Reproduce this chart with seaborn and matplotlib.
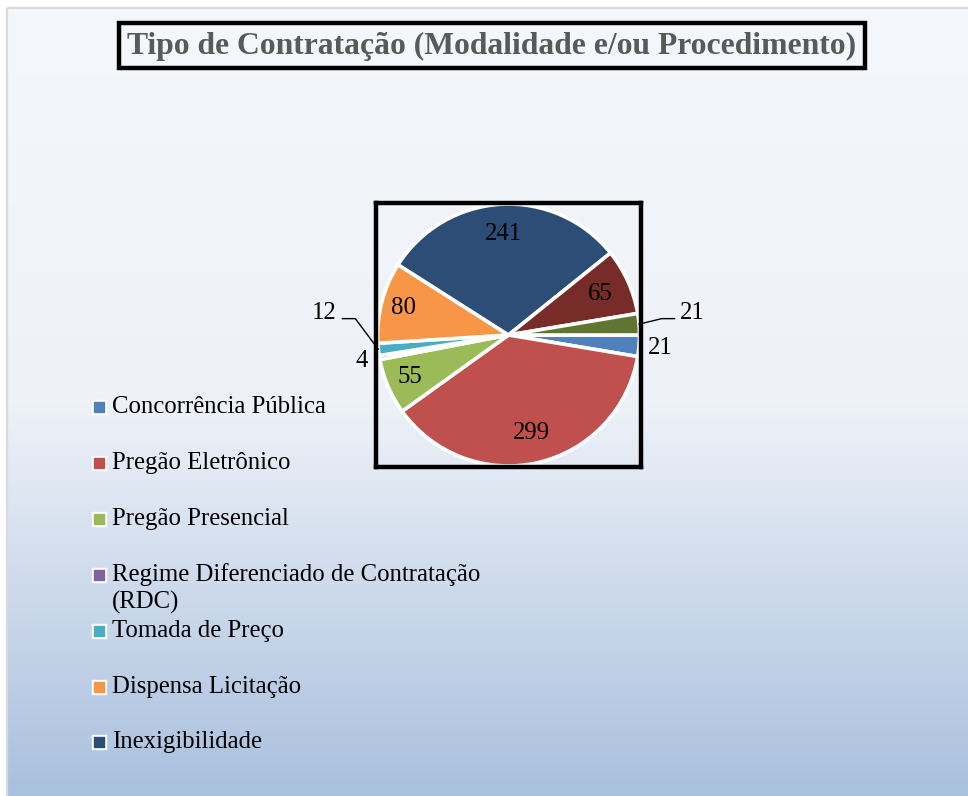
import textwrap
import numpy as np
import matplotlib.pyplot as plt
import seaborn as sns
from matplotlib.patches import Rectangle

# data
categories = ['Concorrência Pública', 'Pregão Eletrônico', 'Pregão Presencial',
              'Regime Diferenciado de Contratação (RDC)', 'Tomada de Preço',
              'Dispensa Licitação', 'Inexigibilidade', '', '']
values = [21, 299, 55, 4, 12, 80, 241, 65, 21]
colors = ['#4F81BD', '#C0504D', '#9BBB59', '#8064A2', '#4BACC6',
          '#F79646', '#2C4D75', '#772C2A', '#5F7530']
title = 'Tipo de Contratação (Modalidade e/ou Procedimento)'

sns.set_style("white")
plt.rcParams['font.family'] = ['Liberation Serif', 'DejaVu Serif']

W, H = 968, 796
fig = plt.figure(figsize=(W / 100, H / 100), dpi=100)
fig.patch.set_facecolor('white')

# overlay axes in pixel coords for background, frame, title and legend
bg = fig.add_axes([0, 0, 1, 1])
bg.set_xlim(0, W)
bg.set_ylim(H, 0)
bg.axis('off')
grad = np.linspace(0, 1, 256)[:, None]
cmap = sns.blend_palette(['#F4F7FB', '#EEF2F8', '#A9C0DE'], as_cmap=True)
bg.imshow(grad, cmap=cmap, aspect='auto', extent=(7, W, H, 8), zorder=0)
bg.add_patch(Rectangle((7, 8), W, H, fill=False, edgecolor='#D9D9D9', lw=1.6, zorder=1))

# title box
bg.add_patch(Rectangle((119, 23), 746, 45, fill=False, edgecolor='black', lw=3.2, zorder=2))
bg.text(492, 46, title, ha='center', va='center', fontsize=22.8, fontweight='bold',
        color='#595959', zorder=3)

# legend (only the first seven slices are named)
y0, step = 407, 55.9
for i, (name, col) in enumerate(zip(categories, colors)):
    if not name:
        continue
    y = y0 + i * step
    bg.scatter([99], [y], marker='s', s=110, color='white', zorder=3)
    bg.scatter([99], [y], marker='s', s=42, color=col, zorder=4)
    for j, line in enumerate(textwrap.wrap(name, 34)):
        bg.text(112, y + j * 28, line, ha='left', va='center', fontsize=17.8, color='black', zorder=4)

# pie
ax = fig.add_axes([376 / W, 1 - 467 / H, 265 / W, 264 / H])
wedges, _ = ax.pie(values, colors=colors, startangle=0, counterclock=False, radius=1,
                   wedgeprops=dict(edgecolor='white', linewidth=2.6))
ax.set_xlim(-1.012, 1.012)
ax.set_ylim(-1.008, 1.008)
ax.set_aspect('auto')
ax.set_frame_on(True)
ax.patch.set_visible(False)
for s in ax.spines.values():
    s.set_visible(True)
    s.set_color('black')
    s.set_linewidth(3.2)
ax.set_xticks([])
ax.set_yticks([])

# data labels
label_r = [1.16, 0.77, 0.82, 1.14, None, 0.83, 0.77, 0.77, None]
for i, (w, v) in enumerate(zip(wedges, values)):
    mid = np.deg2rad((w.theta1 + w.theta2) / 2)
    c, s = np.cos(mid), np.sin(mid)
    if label_r[i] is not None:
        ax.text(label_r[i] * c, label_r[i] * s, str(v), ha='center', va='center',
                fontsize=17.8, color='black', clip_on=False)
    else:
        side = np.sign(c)
        ax.plot([c, 1.17 * side, 1.27 * side], [s, 0.125, 0.125], color='black', lw=1,
                clip_on=False)
        ax.text(1.31 * side, 0.17, str(v), ha='left' if side > 0 else 'right',
                va='center', fontsize=17.8, color='black', clip_on=False)

fig.savefig('out.png', dpi=100)
